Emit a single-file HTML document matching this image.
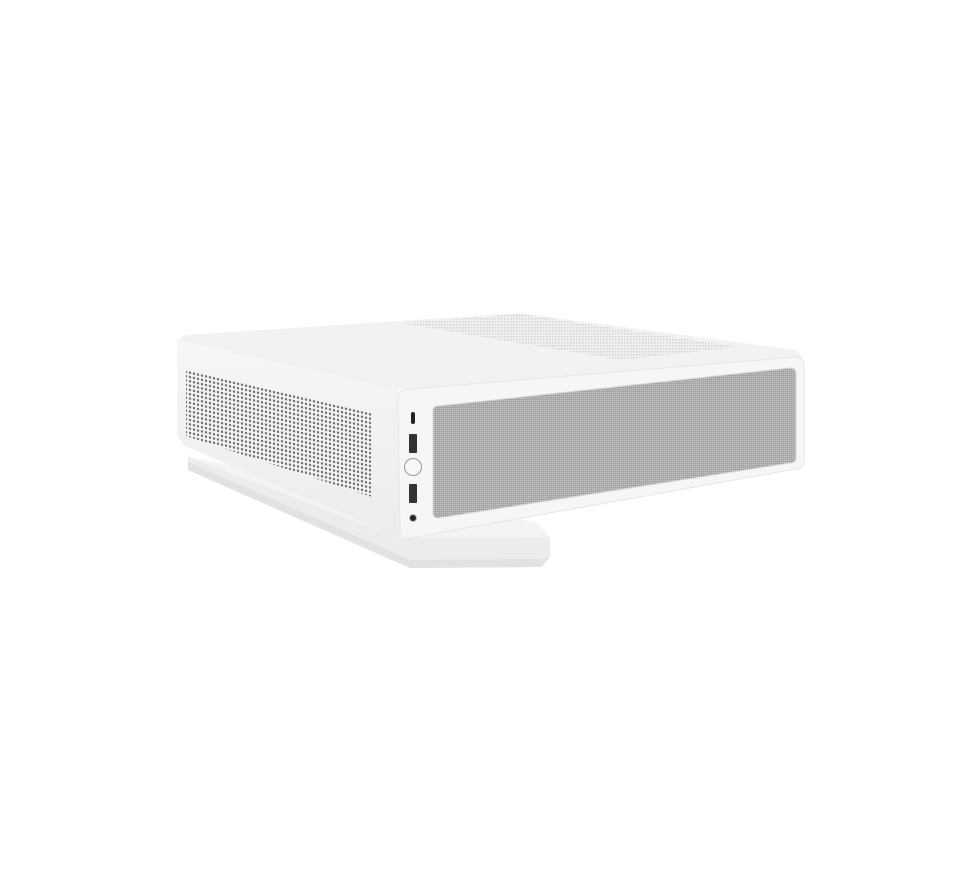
<!DOCTYPE html>
<html><head><style>html,body{margin:0;padding:0;background:#fff;width:960px;height:881px;overflow:hidden}</style></head>
<body>
<svg width="960" height="881" viewBox="0 0 960 881" xmlns="http://www.w3.org/2000/svg">
<defs>
<pattern id="dots" width="4" height="4.3" patternUnits="userSpaceOnUse" patternTransform="skewY(13)">
<rect width="4" height="4.3" fill="#f3f3f3"/><rect x="1" y="1" width="2" height="2.2" fill="#4a4a4a"/></pattern>
<pattern id="tdots" width="3" height="3" patternUnits="userSpaceOnUse"><rect width="3" height="3" fill="#f0f0f0"/><rect width="1.5" height="1.5" fill="#d2d2d2"/></pattern>
<pattern id="fab" width="2" height="2" patternUnits="userSpaceOnUse"><rect width="2" height="2" fill="#a6a6a6"/><rect width="1" height="1" fill="#cbcbcb"/></pattern>
<linearGradient id="lf" x1="0" y1="0" x2="0" y2="1"><stop offset="0" stop-color="#f6f6f6"/><stop offset="1" stop-color="#ececec"/></linearGradient>
</defs>
<polygon points="188,457 537,523 550,537 550,557 541,567 410,568 188,470" fill="#ececec"/>
<polygon points="188,457 537,523 550,537 400,538" fill="#f4f4f4"/>
<polygon points="188,462 410,560 541,559 550,557 541,567 410,568 188,470" fill="#e2e2e2"/>
<polygon points="177,340 398,390 400,538 185,446 177,436" fill="url(#lf)"/>
<polygon points="186,370 372,412 372,497 186,436" fill="url(#dots)" opacity="0.85"/>
<polygon points="177,340 185,335 520,313 795,350 804,358 398,390" fill="#f2f2f2"/>
<polygon points="400,323 520,314 740,347 620,360" fill="url(#tdots)"/>
<path d="M398,396 Q398,390 410,389 L796,357 Q804,357 804,366 L804,462 Q804,468 796,469 L410,538 Q400,539 400,530 Z" fill="#f6f6f6" stroke="#e6e6e6"/>
<path d="M433,411 Q433,406 438,406 L790,368 Q796,368 796,373 L796,458 Q796,463 790,463 L438,518 Q433,518 433,513 Z" fill="url(#fab)" stroke="#d8d8d8"/>
<rect x="411" y="412" width="4" height="12" rx="2" fill="#222"/>
<rect x="409" y="434" width="8" height="19" rx="1" fill="#333"/>
<circle cx="413" cy="467" r="8.5" fill="#f8f8f8" stroke="#999" stroke-width="1"/>
<rect x="409" y="484" width="8" height="19" rx="1" fill="#333"/>
<circle cx="413" cy="518" r="3.5" fill="#222" stroke="#bbb"/>
</svg>
</body></html>
